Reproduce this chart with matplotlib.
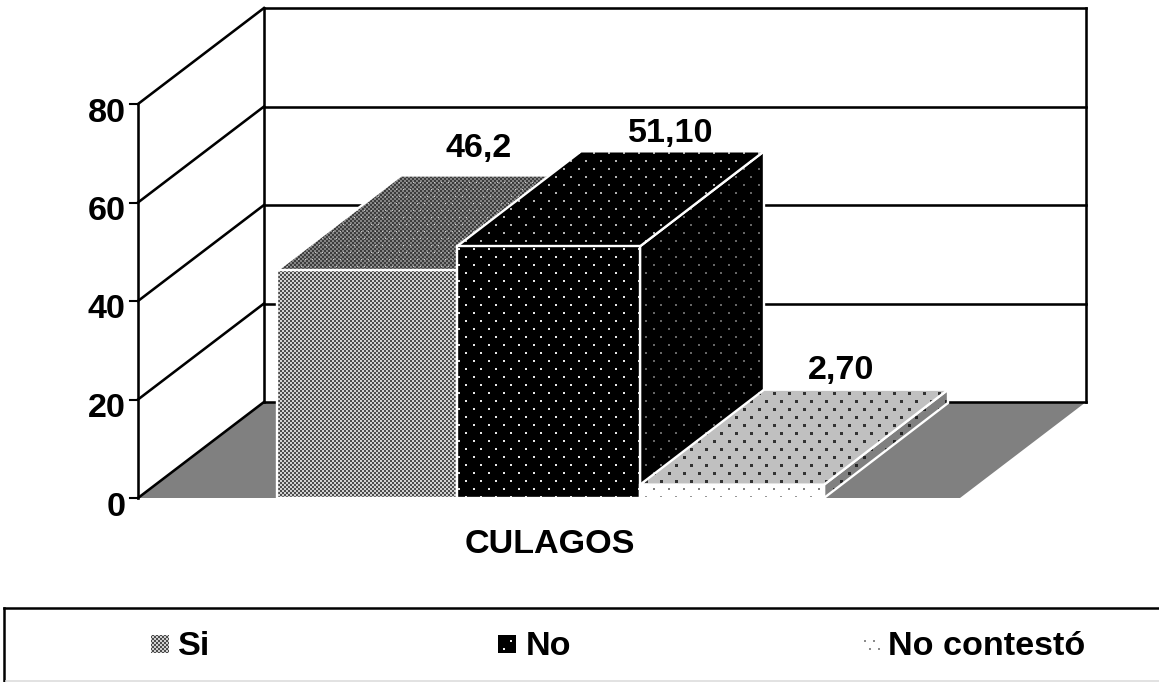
import numpy as np
import matplotlib
matplotlib.use('Agg')
import matplotlib.pyplot as plt
from matplotlib.patches import Polygon

categories = ['Si', 'No', 'No contestó']
values = [46.2, 51.1, 2.7]
value_labels = ['46,2', '51,10', '2,70']
y_ticks = [0, 20, 40, 60, 80]
group_label = 'CULAGOS'

W, H = 1159, 682
PX = 394 / 80          # pixels per value unit on the front wall
Y0 = 498               # pixel row of value 0
DX, DY = 126, 96 / PX  # oblique offset of the back wall
BAR_DX, BAR_DY = 124, 95 / PX
LEFT = 138
RIGHT = 960
BAR_X = [277, 457, 640, 824]
LW = 1.85


def py(row):
    # pixel row to value units
    return (Y0 - row) / PX


# textures are drawn pixel by pixel, clipped to each face
yy, xx = np.mgrid[0:H, 0:W]


def checker(light, dark, cell=2):
    return np.where((xx // cell + yy // cell) % 2 == 0, light, dark).astype(float)


def dots(img, colour, xp=15, yp=8, size=2):
    img = img.copy()
    row = yy // yp
    mask = (yy % yp < size) & ((xx + (xp // 2) * (row % 2)) % xp < size)
    img[mask] = colour
    return img


def solid(v):
    return np.full((H, W), float(v))


fig = plt.figure(figsize=(W / 100, H / 100), dpi=100)
ax = fig.add_axes([0, 0, 1, 1])
ax.axis('off')
plt.rcParams['font.family'] = ['Liberation Sans', 'DejaVu Sans']


def textured(points, texture, zorder):
    im = ax.imshow(texture, cmap='gray', vmin=0, vmax=1, extent=(0, W, py(H), py(0)),
                   aspect='auto', interpolation='nearest', zorder=zorder)
    im.set_clip_path(Polygon(points, closed=True, transform=ax.transData))


def face(points, texture, zorder=3):
    ax.add_patch(Polygon(points, closed=True, facecolor='none', edgecolor='white', lw=1.7,
                         zorder=zorder + 0.5, joinstyle='miter'))
    textured(points, texture, zorder)


def line(xs, ys, lw=LW, zorder=2, color='black'):
    ax.plot(xs, ys, color=color, lw=lw, solid_capstyle='projecting', zorder=zorder)


# floor
ax.add_patch(Polygon([(LEFT, 0), (LEFT + DX, DY), (RIGHT + DX, DY), (RIGHT, 0)], closed=True,
                     facecolor='#808080', edgecolor='none', zorder=1))

# walls and grid
top = y_ticks[-1]
for t in y_ticks:
    line([LEFT, LEFT + DX], [t, t + DY])
    line([LEFT - 8, LEFT], [t, t], lw=1.5)
    line([LEFT + DX, RIGHT + DX], [t + DY, t + DY])
line([LEFT, LEFT], [0, top])
line([LEFT + DX, LEFT + DX], [DY, top + DY])
line([RIGHT + DX, RIGHT + DX], [DY, top + DY])

# bar textures: front, top, side
fronts = [checker(0.82, 0.30), dots(solid(0), 0.9), dots(solid(1), 0.5)]
tops = [dots(checker(0.52, 0.24), 0.75, xp=7, yp=7, size=1), dots(solid(0), 0.7), dots(solid(0.75), 0.2, size=3)]
sides = [solid(0.3), dots(solid(0), 0.4), dots(solid(0.5), 0.15, size=3)]

for i, v in enumerate(values):
    x0, x1 = BAR_X[i], BAR_X[i + 1]
    z = 3 + i * 3
    face([(x1, 0), (x1 + BAR_DX, BAR_DY), (x1 + BAR_DX, v + BAR_DY), (x1, v)], sides[i], zorder=z)
    face([(x0, v), (x0 + BAR_DX, v + BAR_DY), (x1 + BAR_DX, v + BAR_DY), (x1, v)], tops[i], zorder=z + 1)
    face([(x0, 0), (x1, 0), (x1, v), (x0, v)], fronts[i], zorder=z + 2)

# text
FS = 24.6
for t in y_ticks:
    ax.text(125.5, t - 17.5 / PX, str(t), ha='right', va='baseline', fontsize=FS, fontweight='bold')
label_x = [479, 671, 841]
label_row = [157, 142, 379]
for x, row, s in zip(label_x, label_row, value_labels):
    ax.text(x, py(row), s, ha='center', va='baseline', fontsize=FS, fontweight='bold', zorder=20)
ax.text(549.5, py(553), group_label, ha='center', va='baseline', fontsize=FS, fontweight='bold')

# legend
line([4, W + 5], [py(608), py(608)], lw=1.8, zorder=3)
line([4, 4], [py(608), py(H + 3)], lw=1.8, zorder=3)
ax.plot([6, W], [py(681), py(681)], color='#dddddd', lw=1.2, zorder=3)
legend_marker_x = [151, 498, 862]
legend_text_x = [178, 526, 888]
legend_tex = [checker(0.82, 0.30), dots(solid(0), 0.95), dots(solid(1), 0.55, xp=9, yp=8)]
for mx, tx, tex, name in zip(legend_marker_x, legend_text_x, legend_tex, categories):
    textured([(mx, py(653)), (mx + 18, py(653)), (mx + 18, py(635)), (mx, py(635))], tex, 4)
    ax.text(tx, py(655), name, ha='left', va='baseline', fontsize=FS, fontweight='bold')

ax.set_xlim(0, W)
ax.set_ylim(py(H), py(0))
fig.savefig('out.png', dpi=100)
